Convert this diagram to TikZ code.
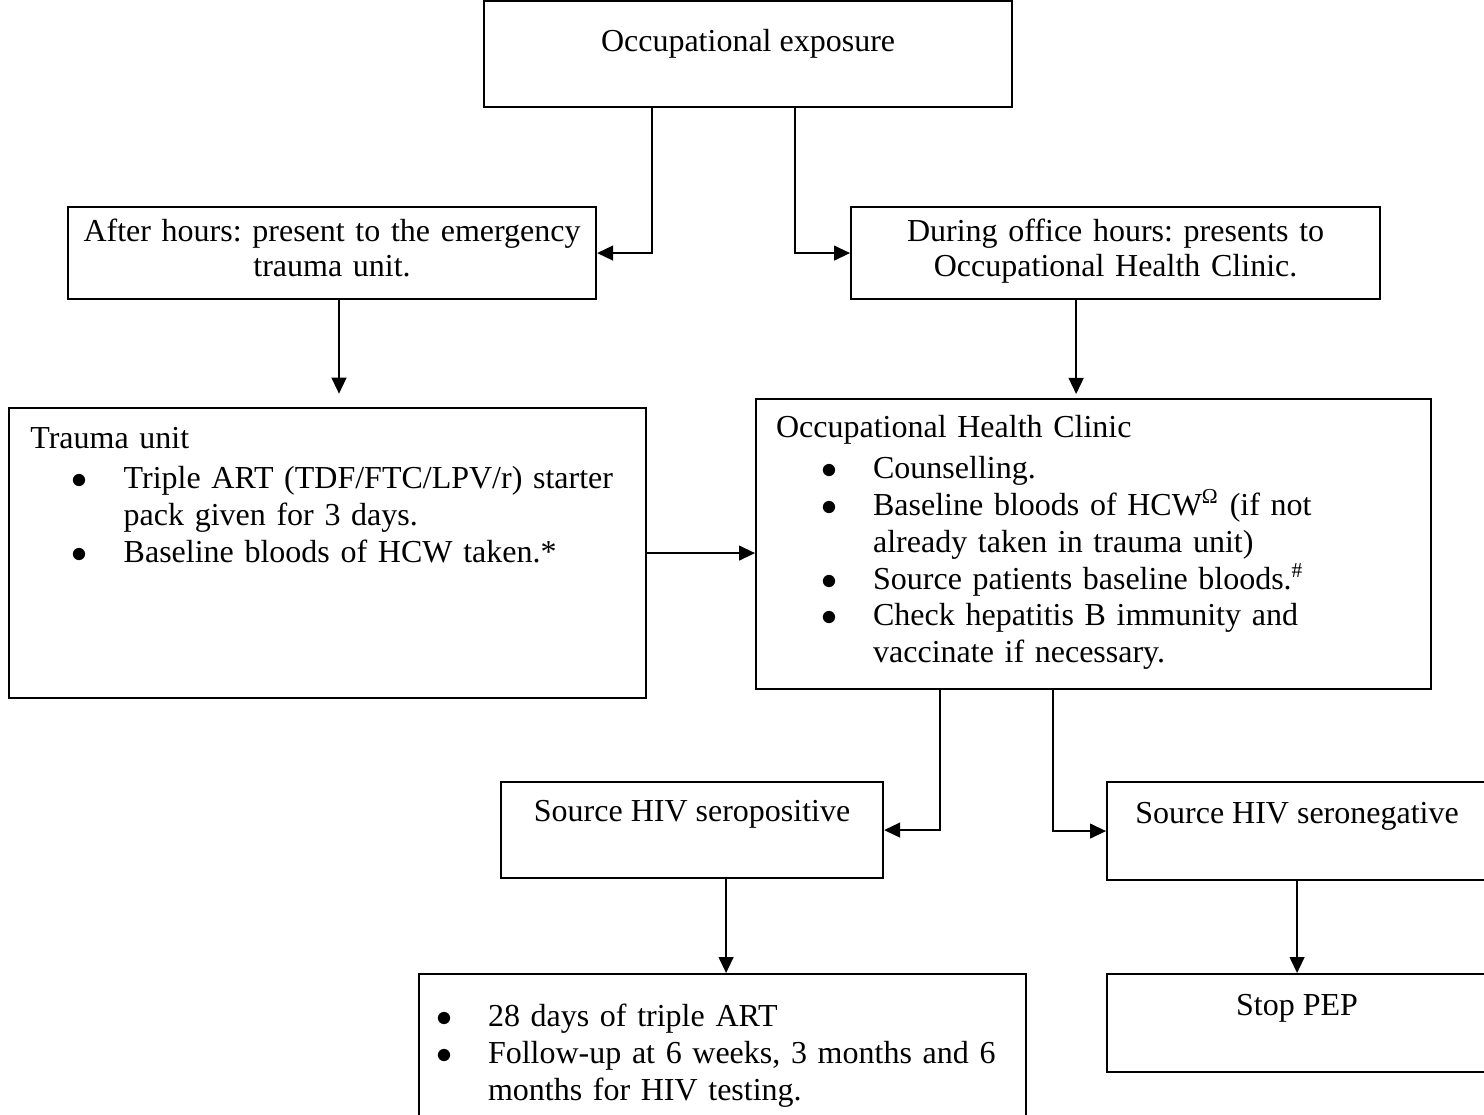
\documentclass[tikz,border=0pt]{standalone}
\usepackage{fontspec}
\setmainfont{Liberation Serif}
\usetikzlibrary{arrows.meta}
\frenchspacing

% bullet list with Word-like indents: #1 left margin, #2 right margin
\newenvironment{bulletlist}[2]{%
  \begin{list}{$\bullet$}{%
    \setlength{\leftmargin}{#1}\setlength{\rightmargin}{#2}%
    \setlength{\labelsep}{13.5pt}\setlength{\labelwidth}{\dimexpr#1-13.5pt\relax}%
    \setlength{\itemindent}{0pt}\setlength{\itemsep}{0pt}%
    \setlength{\parsep}{0pt}\setlength{\topsep}{1.5pt}\setlength{\partopsep}{0pt}}}%
  {\end{list}}

\tikzset{
  box/.style={draw, line width=0.8pt, inner ysep=0pt, inner xsep=5.6pt,
    font=\fontsize{12pt}{12.8pt}\selectfont, align=center},
  listbox/.style={box, align=left, font=\fontsize{12pt}{13.8pt}\selectfont},
  conn/.style={line width=0.55pt, -{Triangle[length=6pt,width=5.6pt]}}
}

\begin{document}
\begin{tikzpicture}[x=0.375pt,y=-0.375pt]
  \useasboundingbox (0,0) rectangle (1484,1115);

  % top row
  \node[box, anchor=north west, minimum width=198pt, text height=18.75pt, text depth=21pt]
    (occ) at (483,0) {Occupational exposure};
  \node[box, anchor=north west, text width=186.8pt, text height=13.1pt, text depth=21.4pt]
    (after) at (67,206) {After hours: present to the emergency\\ trauma unit.};
  \node[box, anchor=north west, text width=187.2pt, text height=13.1pt, text depth=21.4pt]
    (during) at (850,206) {During office hours: presents to\\ Occupational Health Clinic.};

  % middle row
  \node[listbox, anchor=north west, inner xsep=8pt, text width=222.9pt,
        text height=15pt, text depth=93.75pt] (trauma) at (8,407) {%
    Trauma unit
    \begin{bulletlist}{35pt}{0pt}
      \item Triple ART (TDF/FTC/LPV/r) starter\\ pack given for 3 days.
      \item Baseline bloods of HCW taken.*
    \end{bulletlist}};
  \node[listbox, anchor=north west, inner xsep=7.5pt, text width=238.1pt,
        text height=14.6pt, text depth=94.1pt] (ohc) at (755,398) {%
    Occupational Health Clinic
    \begin{bulletlist}{36.4pt}{25.5pt}
      \item Counselling.
      \item Baseline bloods of HCW\textsuperscript{Ω} (if not\\ already taken in trauma unit)
      \item Source patients baseline bloods.\textsuperscript{\#}
      \item Check hepatitis B immunity and\\ vaccinate if necessary.
    \end{bulletlist}};

  % source status
  \node[box, anchor=north west, minimum width=143.25pt, text height=14.6pt, text depth=21.4pt]
    (pos) at (500,781) {Source HIV seropositive};
  \node[box, anchor=north west, minimum width=142.5pt, text height=15.4pt, text depth=21.35pt]
    (neg) at (1106,781) {Source HIV seronegative};

  % bottom row (first list line sits one empty line down, hence the small text height)
  \node[listbox, anchor=north west, text width=216.4pt,
        text height=4.5pt, text depth=63pt] (art) at (418,973) {%
    \begin{bulletlist}{20.25pt}{0pt}
      \item 28 days of triple ART
      \item Follow-up at 6 weeks, 3 months and 6\\ months for HIV testing.
    \end{bulletlist}};
  \node[box, anchor=north west, minimum width=142.5pt, text height=15.4pt, text depth=21.35pt]
    (stop) at (1106,973) {Stop PEP};

  % connectors
  \draw[conn] ([xshift=-36pt]occ.south) |- (after.east);
  \draw[conn] ([xshift=17.6pt]occ.south) |- (during.west);
  \coordinate (a1) at ([xshift=2.6pt]after.south);
  \draw[conn, shorten >=5pt] (a1) -- (a1 |- trauma.north);
  \coordinate (d1) at ([xshift=-14.8pt]during.south);
  \draw[conn, shorten >=1.5pt] (d1) -- (d1 |- ohc.north);
  \draw[conn] (trauma.east) -- (trauma.east -| ohc.west);
  \draw[conn] ([xshift=-57.6pt]ohc.south) |- (pos.east);
  \draw[conn] ([xshift=-15.2pt]ohc.south) |- (neg.west);
  \coordinate (p1) at ([xshift=12.75pt]pos.south);
  \draw[conn] (p1) -- (p1 |- art.north);
  \draw[conn] (neg.south) -- (stop.north);
\end{tikzpicture}
\end{document}
